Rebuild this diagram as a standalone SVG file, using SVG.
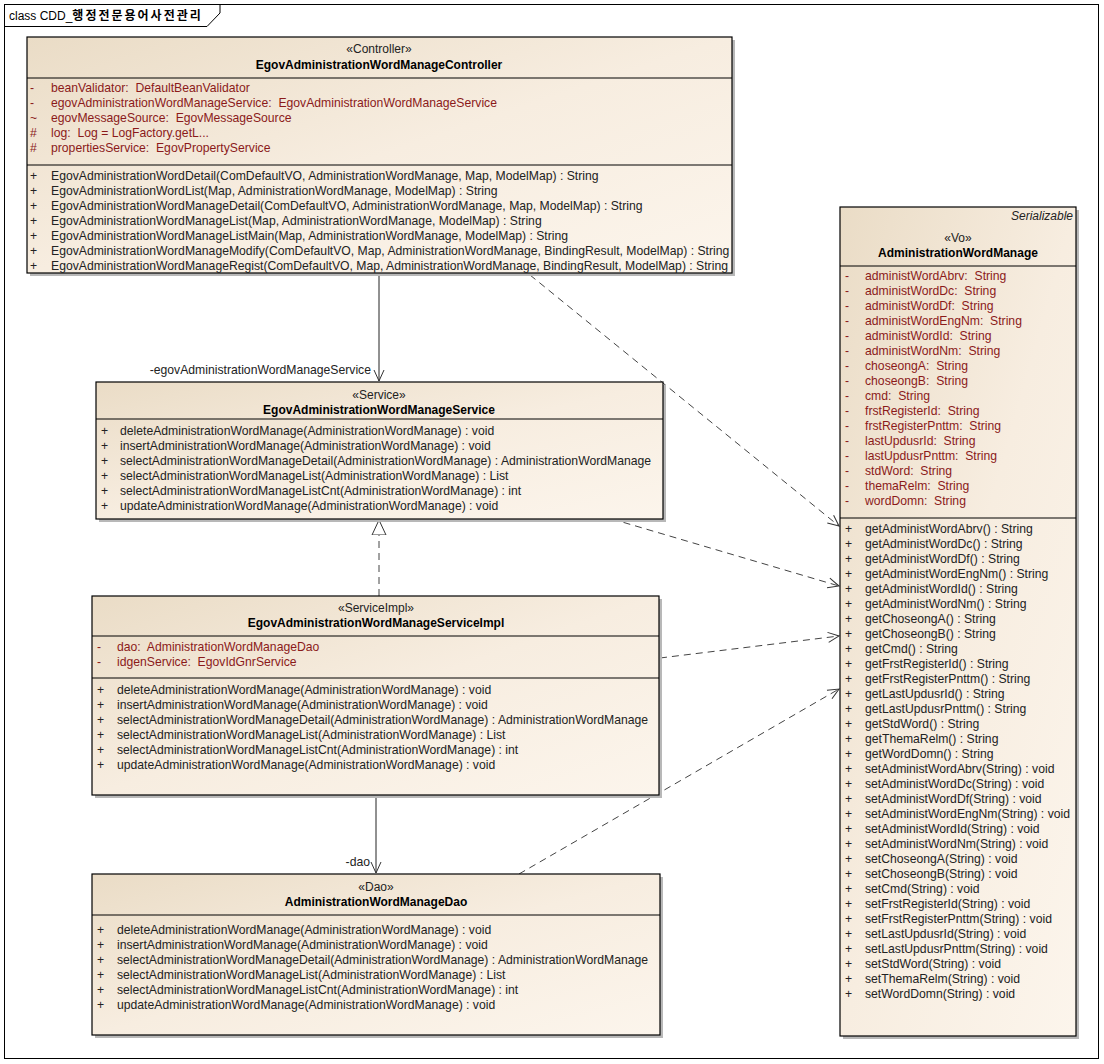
<svg xmlns="http://www.w3.org/2000/svg" width="1104" height="1064" viewBox="0 0 1104 1064">
<defs>
<linearGradient id="g" x1="0" y1="0" x2="1" y2="1">
<stop offset="0" stop-color="#EADCC6"/>
<stop offset="0.5" stop-color="#F7EDE0"/>
<stop offset="1" stop-color="#FCF5EC"/>
</linearGradient>
<marker id="open" markerWidth="14" markerHeight="12" refX="12" refY="6" orient="auto" markerUnits="userSpaceOnUse">
<path d="M1,1 L12,6 L1,11" fill="none" stroke="#333" stroke-width="1"/>
</marker>
<marker id="tri" markerWidth="16" markerHeight="18" refX="15" refY="8" orient="auto" markerUnits="userSpaceOnUse">
<path d="M0,1 L15,8 L0,15 Z" fill="#fff" stroke="#333" stroke-width="1"/>
</marker>
</defs>
<style>
text{font-family:"Liberation Sans",Arial,sans-serif;font-size:12.2px;fill:#222;white-space:pre}
.a{fill:#8B1A1A}
.n{font-weight:bold;fill:#000;font-size:12px}
.s{fill:#222;font-size:12px}
.c{text-anchor:middle}
.i{font-style:italic;text-anchor:end;font-size:12px}
.box{fill:url(#g);stroke:#000;stroke-width:1.2}
.sh{fill:#B8B8B8}
.dv{stroke:#000;stroke-width:1}
.dash{stroke:#444;stroke-width:1;fill:none;stroke-dasharray:7,5}
.sol{stroke:#222;stroke-width:1;fill:none}
</style>
<rect x="0" y="0" width="1104" height="1064" fill="#fff"/>
<g id="frame">
<rect x="4.5" y="4.5" width="1094" height="1054" fill="none" stroke="#000"/>
<path d="M4.5,26.5 L207,26.5 L220,13 L220,4.5" fill="none" stroke="#000"/>
<text x="9" y="20" style="font-size:12px;fill:#000">class CDD_<tspan font-family="'Noto Sans CJK KR',sans-serif" font-size="12" font-weight="bold" letter-spacing="2">행정전문용어사전관리</tspan></text>
</g>

<g id="connectors">
<line class="sol" x1="379" y1="274" x2="379" y2="381" marker-end="url(#open)"/>
<text x="371" y="374" style="text-anchor:end">-egovAdministrationWordManageService</text>
<line class="dash" x1="530" y1="275" x2="839" y2="526" marker-end="url(#open)"/>
<line class="dash" x1="612" y1="519" x2="839" y2="586" marker-end="url(#open)"/>
<line class="dash" x1="379" y1="596" x2="379" y2="520" marker-end="url(#tri)"/>
<line class="dash" x1="660" y1="658" x2="839" y2="636" marker-end="url(#open)"/>
<line class="sol" x1="376" y1="796" x2="376" y2="873" marker-end="url(#open)"/>
<text x="370" y="866" style="text-anchor:end">-dao</text>
<line class="dash" x1="519" y1="874" x2="839" y2="689" marker-end="url(#open)"/>
</g>

<g id="controller">
<rect class="sh" x="30" y="40" width="705" height="236"/>
<rect class="box" x="27" y="37" width="705" height="236"/>
<text class="c s" x="379" y="53">«Controller»</text>
<text class="c n" x="379" y="69">EgovAdministrationWordManageController</text>
<line class="dv" x1="27" y1="78" x2="732" y2="78"/>
<text class="a" x="30" y="92">-</text><text class="a" x="51" y="92">beanValidator:  DefaultBeanValidator</text>
<text class="a" x="30" y="107">-</text><text class="a" x="51" y="107">egovAdministrationWordManageService:  EgovAdministrationWordManageService</text>
<text class="a" x="30" y="122">~</text><text class="a" x="51" y="122">egovMessageSource:  EgovMessageSource</text>
<text class="a" x="30" y="137">#</text><text class="a" x="51" y="137">log:  Log = LogFactory.getL...</text>
<text class="a" x="30" y="152">#</text><text class="a" x="51" y="152">propertiesService:  EgovPropertyService</text>
<line class="dv" x1="27" y1="165" x2="732" y2="165"/>
<text x="30" y="180">+</text><text x="51" y="180">EgovAdministrationWordDetail(ComDefaultVO, AdministrationWordManage, Map, ModelMap) : String</text>
<text x="30" y="195">+</text><text x="51" y="195">EgovAdministrationWordList(Map, AdministrationWordManage, ModelMap) : String</text>
<text x="30" y="210">+</text><text x="51" y="210">EgovAdministrationWordManageDetail(ComDefaultVO, AdministrationWordManage, Map, ModelMap) : String</text>
<text x="30" y="225">+</text><text x="51" y="225">EgovAdministrationWordManageList(Map, AdministrationWordManage, ModelMap) : String</text>
<text x="30" y="240">+</text><text x="51" y="240">EgovAdministrationWordManageListMain(Map, AdministrationWordManage, ModelMap) : String</text>
<text x="30" y="255">+</text><text x="51" y="255">EgovAdministrationWordManageModify(ComDefaultVO, Map, AdministrationWordManage, BindingResult, ModelMap) : String</text>
<text x="30" y="270">+</text><text x="51" y="270">EgovAdministrationWordManageRegist(ComDefaultVO, Map, AdministrationWordManage, BindingResult, ModelMap) : String</text>
</g>

<g id="service">
<rect class="sh" x="99" y="385" width="567" height="137"/>
<rect class="box" x="96" y="382" width="567" height="137"/>
<text class="c s" x="379" y="399">«Service»</text>
<text class="c n" x="379" y="414">EgovAdministrationWordManageService</text>
<line class="dv" x1="96" y1="419" x2="663" y2="419"/>
<text x="101" y="435">+</text><text x="120" y="435">deleteAdministrationWordManage(AdministrationWordManage) : void</text>
<text x="101" y="450">+</text><text x="120" y="450">insertAdministrationWordManage(AdministrationWordManage) : void</text>
<text x="101" y="465">+</text><text x="120" y="465">selectAdministrationWordManageDetail(AdministrationWordManage) : AdministrationWordManage</text>
<text x="101" y="480">+</text><text x="120" y="480">selectAdministrationWordManageList(AdministrationWordManage) : List</text>
<text x="101" y="495">+</text><text x="120" y="495">selectAdministrationWordManageListCnt(AdministrationWordManage) : int</text>
<text x="101" y="510">+</text><text x="120" y="510">updateAdministrationWordManage(AdministrationWordManage) : void</text>
</g>

<g id="serviceimpl">
<rect class="sh" x="95" y="599" width="567" height="199"/>
<rect class="box" x="92" y="596" width="567" height="199"/>
<text class="c s" x="376" y="612">«ServiceImpl»</text>
<text class="c n" x="376" y="627">EgovAdministrationWordManageServiceImpl</text>
<line class="dv" x1="92" y1="636" x2="659" y2="636"/>
<text class="a" x="97" y="651">-</text><text class="a" x="117" y="651">dao:  AdministrationWordManageDao</text>
<text class="a" x="97" y="666">-</text><text class="a" x="117" y="666">idgenService:  EgovIdGnrService</text>
<line class="dv" x1="92" y1="678" x2="659" y2="678"/>
<text x="97" y="694">+</text><text x="117" y="694">deleteAdministrationWordManage(AdministrationWordManage) : void</text>
<text x="97" y="709">+</text><text x="117" y="709">insertAdministrationWordManage(AdministrationWordManage) : void</text>
<text x="97" y="724">+</text><text x="117" y="724">selectAdministrationWordManageDetail(AdministrationWordManage) : AdministrationWordManage</text>
<text x="97" y="739">+</text><text x="117" y="739">selectAdministrationWordManageList(AdministrationWordManage) : List</text>
<text x="97" y="754">+</text><text x="117" y="754">selectAdministrationWordManageListCnt(AdministrationWordManage) : int</text>
<text x="97" y="769">+</text><text x="117" y="769">updateAdministrationWordManage(AdministrationWordManage) : void</text>
</g>

<g id="dao">
<rect class="sh" x="95" y="877" width="568" height="161"/>
<rect class="box" x="92" y="874" width="568" height="161"/>
<text class="c s" x="376" y="891">«Dao»</text>
<text class="c n" x="376" y="906">AdministrationWordManageDao</text>
<line class="dv" x1="92" y1="915" x2="660" y2="915"/>
<text x="97" y="934">+</text><text x="117" y="934">deleteAdministrationWordManage(AdministrationWordManage) : void</text>
<text x="97" y="949">+</text><text x="117" y="949">insertAdministrationWordManage(AdministrationWordManage) : void</text>
<text x="97" y="964">+</text><text x="117" y="964">selectAdministrationWordManageDetail(AdministrationWordManage) : AdministrationWordManage</text>
<text x="97" y="979">+</text><text x="117" y="979">selectAdministrationWordManageList(AdministrationWordManage) : List</text>
<text x="97" y="994">+</text><text x="117" y="994">selectAdministrationWordManageListCnt(AdministrationWordManage) : int</text>
<text x="97" y="1009">+</text><text x="117" y="1009">updateAdministrationWordManage(AdministrationWordManage) : void</text>
</g>

<g id="vo">
<rect class="sh" x="843" y="210" width="236" height="829"/>
<rect class="box" x="840" y="207" width="236" height="829"/>
<text class="i" x="1073" y="220">Serializable</text>
<text class="c s" x="958" y="242">«Vo»</text>
<text class="c n" x="958" y="257">AdministrationWordManage</text>
<line class="dv" x1="840" y1="266" x2="1076" y2="266"/>
<text class="a" x="845" y="280">-</text><text class="a" x="865" y="280">administWordAbrv:  String</text>
<text class="a" x="845" y="295">-</text><text class="a" x="865" y="295">administWordDc:  String</text>
<text class="a" x="845" y="310">-</text><text class="a" x="865" y="310">administWordDf:  String</text>
<text class="a" x="845" y="325">-</text><text class="a" x="865" y="325">administWordEngNm:  String</text>
<text class="a" x="845" y="340">-</text><text class="a" x="865" y="340">administWordId:  String</text>
<text class="a" x="845" y="355">-</text><text class="a" x="865" y="355">administWordNm:  String</text>
<text class="a" x="845" y="370">-</text><text class="a" x="865" y="370">choseongA:  String</text>
<text class="a" x="845" y="385">-</text><text class="a" x="865" y="385">choseongB:  String</text>
<text class="a" x="845" y="400">-</text><text class="a" x="865" y="400">cmd:  String</text>
<text class="a" x="845" y="415">-</text><text class="a" x="865" y="415">frstRegisterId:  String</text>
<text class="a" x="845" y="430">-</text><text class="a" x="865" y="430">frstRegisterPnttm:  String</text>
<text class="a" x="845" y="445">-</text><text class="a" x="865" y="445">lastUpdusrId:  String</text>
<text class="a" x="845" y="460">-</text><text class="a" x="865" y="460">lastUpdusrPnttm:  String</text>
<text class="a" x="845" y="475">-</text><text class="a" x="865" y="475">stdWord:  String</text>
<text class="a" x="845" y="490">-</text><text class="a" x="865" y="490">themaRelm:  String</text>
<text class="a" x="845" y="505">-</text><text class="a" x="865" y="505">wordDomn:  String</text>
<line class="dv" x1="840" y1="518" x2="1076" y2="518"/>
<text x="845" y="533">+</text><text x="865" y="533">getAdministWordAbrv() : String</text>
<text x="845" y="548">+</text><text x="865" y="548">getAdministWordDc() : String</text>
<text x="845" y="563">+</text><text x="865" y="563">getAdministWordDf() : String</text>
<text x="845" y="578">+</text><text x="865" y="578">getAdministWordEngNm() : String</text>
<text x="845" y="593">+</text><text x="865" y="593">getAdministWordId() : String</text>
<text x="845" y="608">+</text><text x="865" y="608">getAdministWordNm() : String</text>
<text x="845" y="623">+</text><text x="865" y="623">getChoseongA() : String</text>
<text x="845" y="638">+</text><text x="865" y="638">getChoseongB() : String</text>
<text x="845" y="653">+</text><text x="865" y="653">getCmd() : String</text>
<text x="845" y="668">+</text><text x="865" y="668">getFrstRegisterId() : String</text>
<text x="845" y="683">+</text><text x="865" y="683">getFrstRegisterPnttm() : String</text>
<text x="845" y="698">+</text><text x="865" y="698">getLastUpdusrId() : String</text>
<text x="845" y="713">+</text><text x="865" y="713">getLastUpdusrPnttm() : String</text>
<text x="845" y="728">+</text><text x="865" y="728">getStdWord() : String</text>
<text x="845" y="743">+</text><text x="865" y="743">getThemaRelm() : String</text>
<text x="845" y="758">+</text><text x="865" y="758">getWordDomn() : String</text>
<text x="845" y="773">+</text><text x="865" y="773">setAdministWordAbrv(String) : void</text>
<text x="845" y="788">+</text><text x="865" y="788">setAdministWordDc(String) : void</text>
<text x="845" y="803">+</text><text x="865" y="803">setAdministWordDf(String) : void</text>
<text x="845" y="818">+</text><text x="865" y="818">setAdministWordEngNm(String) : void</text>
<text x="845" y="833">+</text><text x="865" y="833">setAdministWordId(String) : void</text>
<text x="845" y="848">+</text><text x="865" y="848">setAdministWordNm(String) : void</text>
<text x="845" y="863">+</text><text x="865" y="863">setChoseongA(String) : void</text>
<text x="845" y="878">+</text><text x="865" y="878">setChoseongB(String) : void</text>
<text x="845" y="893">+</text><text x="865" y="893">setCmd(String) : void</text>
<text x="845" y="908">+</text><text x="865" y="908">setFrstRegisterId(String) : void</text>
<text x="845" y="923">+</text><text x="865" y="923">setFrstRegisterPnttm(String) : void</text>
<text x="845" y="938">+</text><text x="865" y="938">setLastUpdusrId(String) : void</text>
<text x="845" y="953">+</text><text x="865" y="953">setLastUpdusrPnttm(String) : void</text>
<text x="845" y="968">+</text><text x="865" y="968">setStdWord(String) : void</text>
<text x="845" y="983">+</text><text x="865" y="983">setThemaRelm(String) : void</text>
<text x="845" y="998">+</text><text x="865" y="998">setWordDomn(String) : void</text>
</g>
</svg>
